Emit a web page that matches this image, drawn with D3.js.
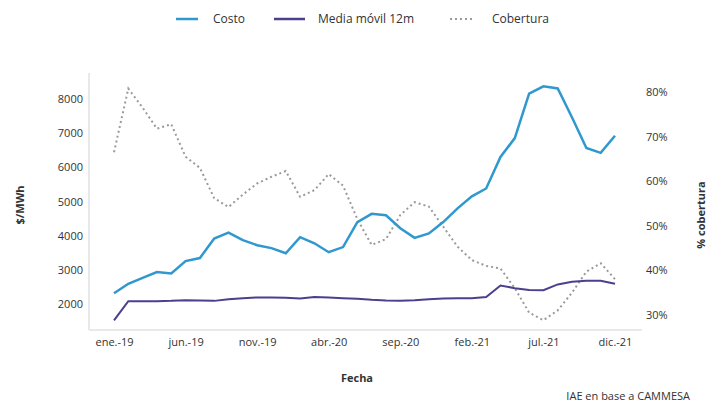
<!DOCTYPE html>
<html>
<head>
<meta charset="utf-8">
<script src="https://cdn.jsdelivr.net/npm/d3@7"></script>
<style>
  body { margin: 0; background: #fff; }
  text { font-family: "Open Sans", "Liberation Sans", sans-serif; fill: #333; }
</style>
</head>
<body>
<script>
const months = ["ene.-19","feb.-19","mar.-19","abr.-19","may.-19","jun.-19","jul.-19","ago.-19","sep.-19","oct.-19","nov.-19","dic.-19",
  "ene.-20","feb.-20","mar.-20","abr.-20","may.-20","jun.-20","jul.-20","ago.-20","sep.-20","oct.-20","nov.-20","dic.-20",
  "ene.-21","feb.-21","mar.-21","abr.-21","may.-21","jun.-21","jul.-21","ago.-21","sep.-21","oct.-21","nov.-21","dic.-21"];

const costo = [2320,2600,2770,2940,2900,3260,3350,3920,4090,3870,3725,3640,
  3490,3960,3780,3520,3670,4400,4640,4600,4220,3940,4070,4400,
  4800,5150,5380,6300,6850,8150,8360,8300,7450,6560,6420,6920];

const media = [1530,2090,2090,2090,2100,2120,2110,2100,2150,2180,2200,2200,
  2190,2170,2210,2200,2180,2160,2130,2110,2100,2120,2150,2170,
  2180,2180,2210,2550,2470,2420,2410,2580,2660,2690,2690,2600];

const cobertura = [66.5,80.8,76.5,71.8,72.8,65.5,63,56.2,54.2,57,59.5,61,
  62.3,56.5,58,61.6,59,51.5,45.7,47,52.4,55.3,54.3,49.8,
  45.3,42.3,41,40.4,36,30.5,28.8,31,35,39.7,41.6,38];

const xTicks = [0,5,10,15,20,25,30,35];
const leftTicks = [2000,3000,4000,5000,6000,7000,8000];
const rightTicks = [30,40,50,60,70,80];

const w = 710, h = 403;
const svg = d3.select("body").append("svg").attr("width", w).attr("height", h);

const x = d3.scaleLinear().domain([0, 35]).range([114, 615]);
const yL = d3.scaleLinear().domain([1250, 8750]).range([330, 73]);
const yR = d3.scaleLinear().domain([26.6, 84.3]).range([330, 73]);

// axis lines
svg.append("line").attr("x1", 89).attr("x2", 89).attr("y1", 73).attr("y2", 330)
  .attr("stroke", "#e2e2e2").attr("stroke-width", 1.5);
svg.append("line").attr("x1", 89).attr("x2", 642).attr("y1", 330).attr("y2", 330)
  .attr("stroke", "#e2e2e2").attr("stroke-width", 1.5);

const gx = svg.append("g").attr("transform", "translate(0,330)")
  .call(d3.axisBottom(x).tickValues(xTicks).tickSize(0).tickPadding(8).tickFormat(i => months[i]));
const gl = svg.append("g").attr("transform", "translate(86,0)")
  .call(d3.axisLeft(yL).tickValues(leftTicks).tickSize(0).tickPadding(3).tickFormat(d => d));
const gr = svg.append("g").attr("transform", "translate(643,0)")
  .call(d3.axisRight(yR).tickValues(rightTicks).tickSize(0).tickPadding(3).tickFormat(d => d + "%"));
[gx, gl, gr].forEach(g => {
  g.select(".domain").remove();
  g.selectAll("text").attr("font-size", "11px").attr("fill", "#333");
});

const line = (ys, data) => d3.line().x((d, i) => x(i)).y(d => ys(d))(data);

svg.append("path").attr("d", line(yR, cobertura)).attr("fill", "none")
  .attr("stroke", "#9a9a9a").attr("stroke-width", 2).attr("stroke-dasharray", "2,3");
svg.append("path").attr("d", line(yL, media)).attr("fill", "none")
  .attr("stroke", "#4b3f8e").attr("stroke-width", 2);
svg.append("path").attr("d", line(yL, costo)).attr("fill", "none")
  .attr("stroke", "#2f98cf").attr("stroke-width", 2.5);

// titles
svg.append("text").attr("transform", "translate(24,205) rotate(-90)")
  .attr("text-anchor", "middle").attr("font-size", "11px").attr("font-weight", "bold").text("$/MWh");
svg.append("text").attr("transform", "translate(705,215) rotate(-90)")
  .attr("text-anchor", "middle").attr("font-size", "11px").attr("font-weight", "bold").text("% cobertura");
svg.append("text").attr("x", 357).attr("y", 382)
  .attr("text-anchor", "middle").attr("font-size", "11px").attr("font-weight", "bold").text("Fecha");
svg.append("text").attr("x", 690).attr("y", 400)
  .attr("text-anchor", "end").attr("font-size", "11px").text("IAE en base a CAMMESA");

// legend
const legend = [
  {name: "Costo", color: "#2f98cf", x1: 176, x2: 198, tx: 213, dash: null, wd: 2.5},
  {name: "Media móvil 12m", color: "#4b3f8e", x1: 274, x2: 305, tx: 318, dash: null, wd: 2.5},
  {name: "Cobertura", color: "#9a9a9a", x1: 450, x2: 473, tx: 492, dash: "2,3", wd: 2}
];
legend.forEach(l => {
  svg.append("line").attr("x1", l.x1).attr("x2", l.x2).attr("y1", 19).attr("y2", 19)
    .attr("stroke", l.color).attr("stroke-width", l.wd).attr("stroke-dasharray", l.dash);
  svg.append("text").attr("x", l.tx).attr("y", 23).attr("font-size", "12px").text(l.name);
});
</script>
</body>
</html>
